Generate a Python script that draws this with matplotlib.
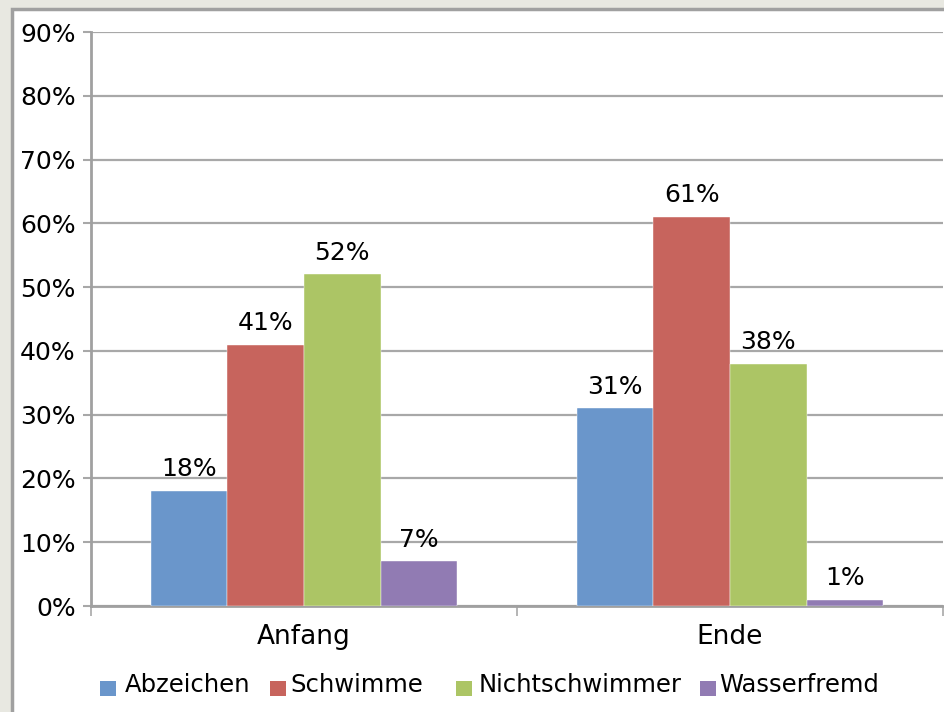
import numpy as np
import matplotlib.pyplot as plt
from matplotlib.patches import Rectangle
from matplotlib.transforms import Bbox, TransformedBbox

categories = ["Anfang", "Ende"]
series = ["Abzeichen", "Schwimmer", "Nichtschwimmer", "Wasserfremd"]
abzeichen = [18, 31]
schwimmer = [41, 61]
nichtschwimmer = [52, 38]
wasserfremd = [7, 1]
colors = ["#6a96cb", "#c7645d", "#acc565", "#917bb3"]
yticks = [0, 10, 20, 30, 40, 50, 60, 70, 80, 90]

W, H = 944, 712
plt.rcParams['font.family'] = ['DejaVu Sans']
fig = plt.figure(figsize=(W / 100, H / 100), dpi=100)
fig.patch.set_facecolor("#e8e8e1")

# white chart panel with gray border (runs off the right/bottom edge)
fig.add_artist(Rectangle((11.5 / W, -0.2), 1.5, 1.2 - 8.5 / H, transform=fig.transFigure,
                         facecolor="white", edgecolor="#a0a0a0", linewidth=2.5, zorder=0))

ax = fig.add_axes([91 / W, 1 - 606 / H, 852 / W, (606 - 32) / H])
ax.set_facecolor("white")

values = [abzeichen, schwimmer, nichtschwimmer, wasserfremd]
x = np.arange(len(categories))
width = 0.18
for i, (vals, col) in enumerate(zip(values, colors)):
    pos = x + (i - 1.5) * width
    bars = ax.bar(pos, vals, width, color=col, edgecolor="white", linewidth=0.3, zorder=3)
    for b, v in zip(bars, vals):
        ax.annotate(f"{v}%", (b.get_x() + b.get_width() / 2, b.get_height()),
                    xytext=(0, 7), textcoords="offset points", ha="center", va="bottom",
                    fontsize=18, color="black", zorder=4)

ax.set_xlim(-0.5, 1.5)
ax.set_ylim(0, 90)
ax.set_yticks(yticks)
ax.set_yticklabels([f"{t}%" for t in yticks])
ax.yaxis.grid(True, color="#a8a8a8", linewidth=1.6, zorder=0)
ax.set_axisbelow(True)

ax.set_xticks(x)
ax.set_xticklabels(categories)
ax.set_xticks([-0.5, 0.5, 1.5], minor=True)
ax.tick_params(axis="x", which="major", length=0, pad=13, labelsize=19)
ax.tick_params(axis="x", which="minor", length=7, width=1.2, color="#a8a8a8", direction="out")
ax.tick_params(axis="y", length=6, width=1.5, color="#a8a8a8", pad=5, labelsize=18)

for s in ["top", "right"]:
    ax.spines[s].set_visible(False)
for s in ["left", "bottom"]:
    ax.spines[s].set_color("#a0a0a0")
    ax.spines[s].set_linewidth(2)

# legend drawn by hand so the labels get cut off like in the original
leg_boxes = [100, 270, 456, 700]
leg_text = [125, 290, 479, 719]
leg_clip = [249, 424, 681, 897]
for lx, tx, clip, col, name in zip(leg_boxes, leg_text, leg_clip, colors, series):
    fig.add_artist(Rectangle((lx / W, 1 - 696 / H), 16 / W, 15 / H, transform=fig.transFigure,
                             facecolor=col, edgecolor="none"))
    t = fig.text(tx / W, 1 - 692 / H, name, fontsize=17.5, va="baseline", ha="left")
    t.set_clip_box(TransformedBbox(Bbox.from_extents(lx / W, 0, clip / W, 1), fig.transFigure))
    t.set_clip_on(True)

fig.savefig("out.png", dpi=100, facecolor=fig.get_facecolor())
